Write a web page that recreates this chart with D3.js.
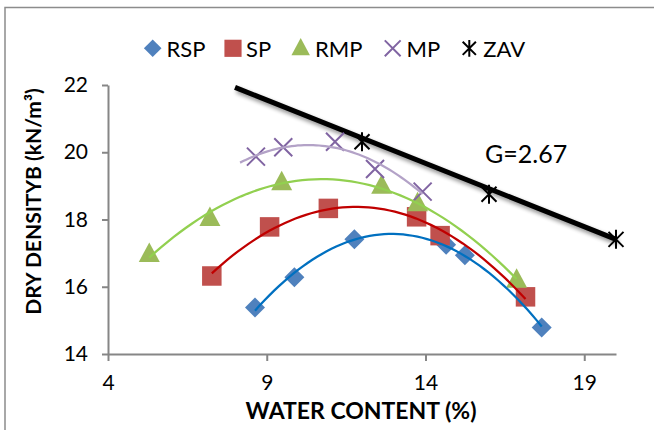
<!DOCTYPE html>
<html>
<head>
<meta charset="utf-8">
<script src="https://cdn.jsdelivr.net/npm/d3@7"></script>
<style>
  body { margin: 0; background: #fff; }
  svg { display: block; }
  text { font-family: Lato, "Open Sans", sans-serif; fill: #000; }
</style>
</head>
<body>
<svg id="chart" width="654" height="430"></svg>
<script>
// Compaction test results: water content (%) vs dry density (kN/m3)
const seriesNames = ["RSP", "SP", "RMP", "MP", "ZAV"];

const rspWater = [8.63, 9.87, 11.76, 14.65, 15.24, 17.66];
const rspDensity = [15.38, 16.28, 17.41, 17.25, 16.94, 14.79];

const spWater = [7.27, 9.09, 10.94, 13.72, 14.46, 17.15];
const spDensity = [16.32, 17.78, 18.33, 18.08, 17.52, 15.70];

const rmpWater = [5.30, 7.21, 9.47, 12.62, 13.75, 16.87];
const rmpDensity = [16.97, 18.04, 19.10, 19.00, 18.48, 16.20];

const mpWater = [8.66, 9.52, 11.15, 12.41, 13.91];
const mpDensity = [19.87, 20.15, 20.31, 19.50, 18.83];

// Zero air voids points for G = 2.67
const zavWater = [12, 16, 20];
const zavDensity = [20.31, 18.75, 17.41];

// Zero air voids line, end points
const zavLineWater = [8, 20];
const zavLineDensity = [21.93, 17.41];

const xTicks = [4, 9, 14, 19];
const yTicks = [14, 16, 18, 20, 22];

const svg = d3.select("#chart");

// Chart frame
svg.append("rect")
  .attr("x", 5).attr("y", 7.5)
  .attr("width", 700).attr("height", 500)
  .attr("fill", "none").attr("stroke", "#8c8c8c").attr("stroke-width", 1.5);

const x = d3.scaleLinear().domain([4, 20]).range([108, 616]);
const y = d3.scaleLinear().domain([14, 22]).range([354, 85]);

const axisColor = "#868686";

// Axes
const gx = svg.append("g").attr("transform", `translate(0,${y(14)})`)
  .call(d3.axisBottom(x).tickValues(xTicks).tickSize(7).tickSizeOuter(0).tickPadding(14));
const gy = svg.append("g").attr("transform", `translate(${x(4)},0)`)
  .call(d3.axisLeft(y).tickValues(yTicks).tickSize(6).tickSizeOuter(0).tickPadding(14));
[gx, gy].forEach(g => {
  g.select(".domain").attr("stroke", axisColor).attr("stroke-width", 2);
  g.selectAll(".tick line").attr("stroke", axisColor).attr("stroke-width", 2);
  g.selectAll(".tick text").attr("font-size", 21).attr("font-family", "Lato, sans-serif").attr("fill", "#000");
});
gx.selectAll(".tick text").attr("dy", "0.71em");

// Axis titles
svg.append("text")
  .attr("x", 361).attr("y", 419)
  .attr("text-anchor", "middle")
  .attr("font-size", 23).attr("font-weight", "bold")
  .text("WATER CONTENT (%)");

svg.append("text")
  .attr("transform", "translate(41,201.5) rotate(-90)")
  .attr("text-anchor", "middle")
  .attr("font-size", 21).attr("font-weight", "bold")
  .text("DRY DENSITYB (kN/m³)");

// Least squares quadratic fit
function polyFit2(xs, ys) {
  let n = xs.length, s1 = 0, s2 = 0, s3 = 0, s4 = 0, t0 = 0, t1 = 0, t2 = 0;
  for (let i = 0; i < n; i++) {
    const a = xs[i], b = ys[i];
    s1 += a; s2 += a * a; s3 += a * a * a; s4 += a * a * a * a;
    t0 += b; t1 += a * b; t2 += a * a * b;
  }
  const M = [[n, s1, s2, t0], [s1, s2, s3, t1], [s2, s3, s4, t2]];
  for (let c = 0; c < 3; c++) {
    for (let r = c + 1; r < 3; r++) {
      const f = M[r][c] / M[c][c];
      for (let k = c; k < 4; k++) M[r][k] -= f * M[c][k];
    }
  }
  const coef = [0, 0, 0];
  for (let r = 2; r >= 0; r--) {
    let s = M[r][3];
    for (let k = r + 1; k < 3; k++) s -= M[r][k] * coef[k];
    coef[r] = s / M[r][r];
  }
  return w => coef[0] + coef[1] * w + coef[2] * w * w;
}

const defs = svg.append("defs");
const shadow = defs.append("filter").attr("id", "lineShadow")
  .attr("x", "-10%").attr("y", "-30%").attr("width", "130%").attr("height", "180%");
shadow.append("feGaussianBlur").attr("in", "SourceAlpha").attr("stdDeviation", 2).attr("result", "b");
shadow.append("feOffset").attr("in", "b").attr("dx", 2).attr("dy", 3).attr("result", "o");
shadow.append("feComponentTransfer").attr("in", "o").attr("result", "s")
  .append("feFuncA").attr("type", "linear").attr("slope", 0.45);
const merge = shadow.append("feMerge");
merge.append("feMergeNode").attr("in", "s");
merge.append("feMergeNode").attr("in", "SourceGraphic");

const line = d3.line().x(d => x(d[0])).y(d => y(d[1]));

// ZAV line
svg.append("path")
  .attr("d", line(zavLineWater.map((w, i) => [w, zavLineDensity[i]])))
  .attr("stroke", "#000").attr("stroke-width", 5).attr("fill", "none")
  .attr("filter", "url(#lineShadow)");

// Marker shapes
function drawMarker(g, type, cx, cy, legend) {
  const k = legend ? 0.88 : 1;
  if (type === "diamond") {
    const r = 10 * k;
    g.append("path").attr("d", `M${cx},${cy - r}L${cx + r},${cy}L${cx},${cy + r}L${cx - r},${cy}Z`)
      .attr("fill", "#4F81BD");
  } else if (type === "square") {
    const s = 19.5 * k;
    g.append("rect").attr("x", cx - s / 2).attr("y", cy - s / 2).attr("width", s).attr("height", s)
      .attr("fill", "#C0504D");
  } else if (type === "triangle") {
    const w = 21 * k, h = 19.5 * k;
    g.append("path").attr("d", `M${cx},${cy - h * 0.6}L${cx + w / 2},${cy + h * 0.4}L${cx - w / 2},${cy + h * 0.4}Z`)
      .attr("fill", "#9BBB59");
  } else if (type === "cross") {
    const r = 9 * k;
    g.append("path").attr("d", `M${cx - r},${cy - r}L${cx + r},${cy + r}M${cx - r},${cy + r}L${cx + r},${cy - r}`)
      .attr("stroke", "#8064A2").attr("stroke-width", 2).attr("fill", "none");
  } else if (type === "star") {
    const r = 7.5 * k, v = 9.5 * k;
    g.append("path").attr("d", `M${cx - r},${cy - r}L${cx + r},${cy + r}M${cx - r},${cy + r}L${cx + r},${cy - r}M${cx},${cy - v}L${cx},${cy + v}`)
      .attr("stroke", "#000").attr("stroke-width", 2).attr("fill", "none");
  }
}

const series = [
  { w: rspWater, d: rspDensity, type: "diamond", trend: "#0070C0" },
  { w: spWater, d: spDensity, type: "square", trend: "#C00000" },
  { w: rmpWater, d: rmpDensity, type: "triangle", trend: "#92D050" },
  { w: mpWater, d: mpDensity, type: "cross", trend: "#B3A2C7", back: 0.5 },
  { w: zavWater, d: zavDensity, type: "star" }
];

const gMarks = svg.append("g");
series.forEach(s => {
  s.w.forEach((w, i) => drawMarker(gMarks, s.type, x(w), y(s.d[i]), false));
});

// Second-order polynomial trendlines
const gTrend = svg.append("g");
series.filter(s => s.trend).forEach(s => {
  const f = polyFit2(s.w, s.d);
  const w0 = d3.min(s.w) - (s.back || 0), w1 = d3.max(s.w);
  const pts = d3.range(0, 61).map(i => { const w = w0 + (w1 - w0) * i / 60; return [w, f(w)]; });
  gTrend.append("path").attr("d", line(pts))
    .attr("stroke", s.trend).attr("stroke-width", 2.25).attr("fill", "none");
});

// Legend
const legendX = [152.7, 233, 300.7, 392.7, 469.3];
const textX = [166.5, 246, 315, 406.5, 483.3];
const gLeg = svg.append("g");
series.forEach((s, i) => {
  drawMarker(gLeg, s.type, legendX[i], 48.3, true);
  gLeg.append("text").attr("x", textX[i]).attr("y", 56.5)
    .attr("font-size", 22).text(seriesNames[i]);
});

// Specific gravity label
svg.append("text").attr("x", 485).attr("y", 162.7)
  .attr("font-size", 25).text("G=2.67");
</script>
</body>
</html>
